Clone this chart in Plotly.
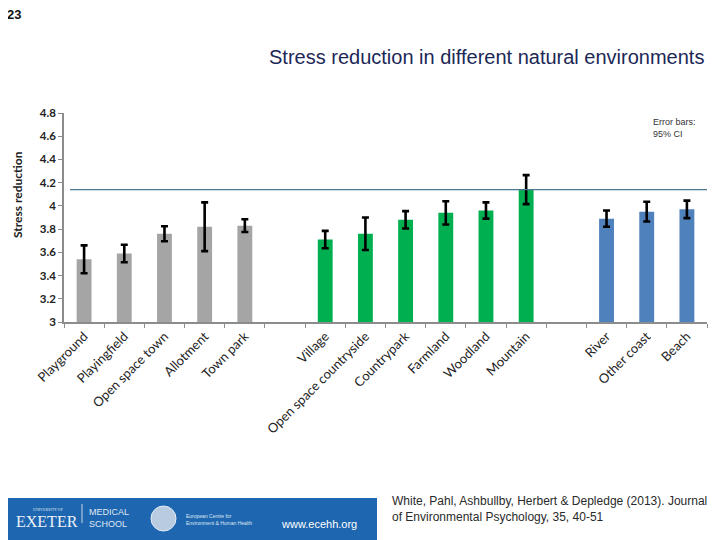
import plotly.graph_objects as go

# ---- data ----
urban_cats = ["Playground", "Playingfield", "Open space town", "Allotment", "Town park"]
urban_vals = [3.54, 3.59, 3.76, 3.82, 3.83]
urban_ci = [0.12, 0.075, 0.065, 0.21, 0.055]

country_cats = ["Village", "Open space countryside", "Countrypark", "Farmland", "Woodland", "Mountain"]
country_vals = [3.71, 3.76, 3.88, 3.94, 3.96, 4.14]
country_ci = [0.075, 0.14, 0.075, 0.10, 0.07, 0.125]

coast_cats = ["River", "Other coast", "Beach"]
coast_vals = [3.89, 3.95, 3.97]
coast_ci = [0.07, 0.085, 0.075]

gap1, gap2 = " ", "  "
all_cats = urban_cats + [gap1] + country_cats + [gap2] + coast_cats
ref_value = max(country_vals)  # reference line at Mountain

# ---- layout geometry (page pixels; page has an 8px body margin) ----
O = 8
W, H = 720 - O, 540 - O
PL, PR, PT, PB = 64, 707, 113, 322          # plot area in page pixels
L, R, T, B = PL - O, 720 - PR, PT - O, 540 - PB
PW, PH = PR - PL, PB - PT


def px(x):
    return (x - PL) / PW


def py(y):
    return (PB - y) / PH


fig = go.Figure()
err_style = dict(type="data", color="black", thickness=2.6, width=3.5)
for cats, vals, ci, col in [
    (urban_cats, urban_vals, urban_ci, "#a5a5a5"),
    (country_cats, country_vals, country_ci, "#00b050"),
    (coast_cats, coast_vals, coast_ci, "#4f81bd"),
]:
    fig.add_trace(go.Bar(
        x=cats, y=vals, width=0.37, marker=dict(color=col, line=dict(width=0)),
        error_y=dict(array=ci, **err_style), showlegend=False,
    ))

axis_col = "#8c8c8c"
fig.update_layout(
    width=W, height=H, margin=dict(l=L, r=R, t=T, b=B, autoexpand=False),
    plot_bgcolor="white", paper_bgcolor="white", barmode="overlay",
    xaxis=dict(type="category", categoryorder="array", categoryarray=all_cats,
               range=[-0.5, len(all_cats) - 0.5],
               showline=True, linecolor=axis_col, linewidth=1.5,
               ticks="outside", tickson="boundaries", ticklen=4, tickcolor=axis_col,
               tickangle=-45, tickfont=dict(family="Lato", size=13, color="#222222"),
               showgrid=False, zeroline=False),
    yaxis=dict(range=[3, 4.8], dtick=0.2, showline=True, linecolor=axis_col, linewidth=1.5,
               ticks="outside", ticklen=4, tickcolor=axis_col,
               tickfont=dict(family="Lato", size=11.5, color="#222222", weight="bold"),
               showgrid=False, zeroline=False),
)

shapes = [
    dict(type="line", xref="paper", yref="y", x0=px(70), x1=px(707), y0=ref_value, y1=ref_value,
         line=dict(color="#4c7891", width=1.3)),
    # banner
    dict(type="rect", xref="paper", yref="paper", x0=px(0), x1=px(377), y0=py(545), y1=py(498),
         fillcolor="#1f66b0", line=dict(width=0), layer="above"),
    dict(type="line", xref="paper", yref="paper", x0=px(82), x1=px(82), y0=py(504), y1=py(523),
         line=dict(color="#c9d8ea", width=1), layer="above"),
    dict(type="circle", xref="paper", yref="paper", x0=px(151), x1=px(176), y0=py(531), y1=py(506),
         fillcolor="#b9cbe0", line=dict(color="#e6eef6", width=1), layer="above"),
]

annotations = [
    dict(text="<b>23</b>", x=px(5), y=py(14), xanchor="left", yanchor="middle",
         font=dict(family="Liberation Sans", size=13, color="#111111")),
    dict(text="Stress reduction in different natural environments", x=px(706), y=py(57),
         xanchor="right", yanchor="middle",
         font=dict(family="Liberation Sans", size=20, color="#1c2856")),
    dict(text="Error bars:<br>95% CI", x=px(651), y=py(128), xanchor="left", yanchor="middle",
         align="left", font=dict(family="Liberation Sans", size=9, color="#333333")),
    dict(text="<b>Stress reduction</b>", x=px(17), y=py(195), textangle=-90,
         xanchor="center", yanchor="middle",
         font=dict(family="Lato", size=12, color="#222222")),
    dict(text="White, Pahl, Ashbullby, Herbert &amp; Depledge (2013). Journal<br>of Environmental Psychology, 35, 40-51",
         x=px(390), y=py(509), xanchor="left", yanchor="middle", align="left",
         font=dict(family="Liberation Sans", size=12, color="#2a2a2a")),
    # banner texts
    dict(text="UNIVERSITY OF", x=px(48), y=py(509), xanchor="center", yanchor="middle",
         font=dict(family="Liberation Serif", size=4, color="#dfe8f3")),
    dict(text="EXETER", x=px(47), y=py(521), xanchor="center", yanchor="middle",
         font=dict(family="Liberation Serif", size=16, color="#eef3f9")),
    dict(text="MEDICAL<br>SCHOOL", x=px(87), y=py(518), xanchor="left", yanchor="middle",
         align="left", font=dict(family="Liberation Sans", size=9, color="#dfe8f3")),
    dict(text="European Centre for<br>Environment &amp; Human Health", x=px(184), y=py(519),
         xanchor="left", yanchor="middle", align="left",
         font=dict(family="Liberation Sans", size=5, color="#dfe8f3")),
    dict(text="www.ecehh.org", x=px(279), y=py(524), xanchor="left", yanchor="middle",
         font=dict(family="Liberation Sans", size=11, color="#ffffff")),
]
for a in annotations:
    a.setdefault("xref", "paper")
    a.setdefault("yref", "paper")
    a["showarrow"] = False

fig.update_layout(shapes=shapes, annotations=annotations)
fig.write_html("out.html")
